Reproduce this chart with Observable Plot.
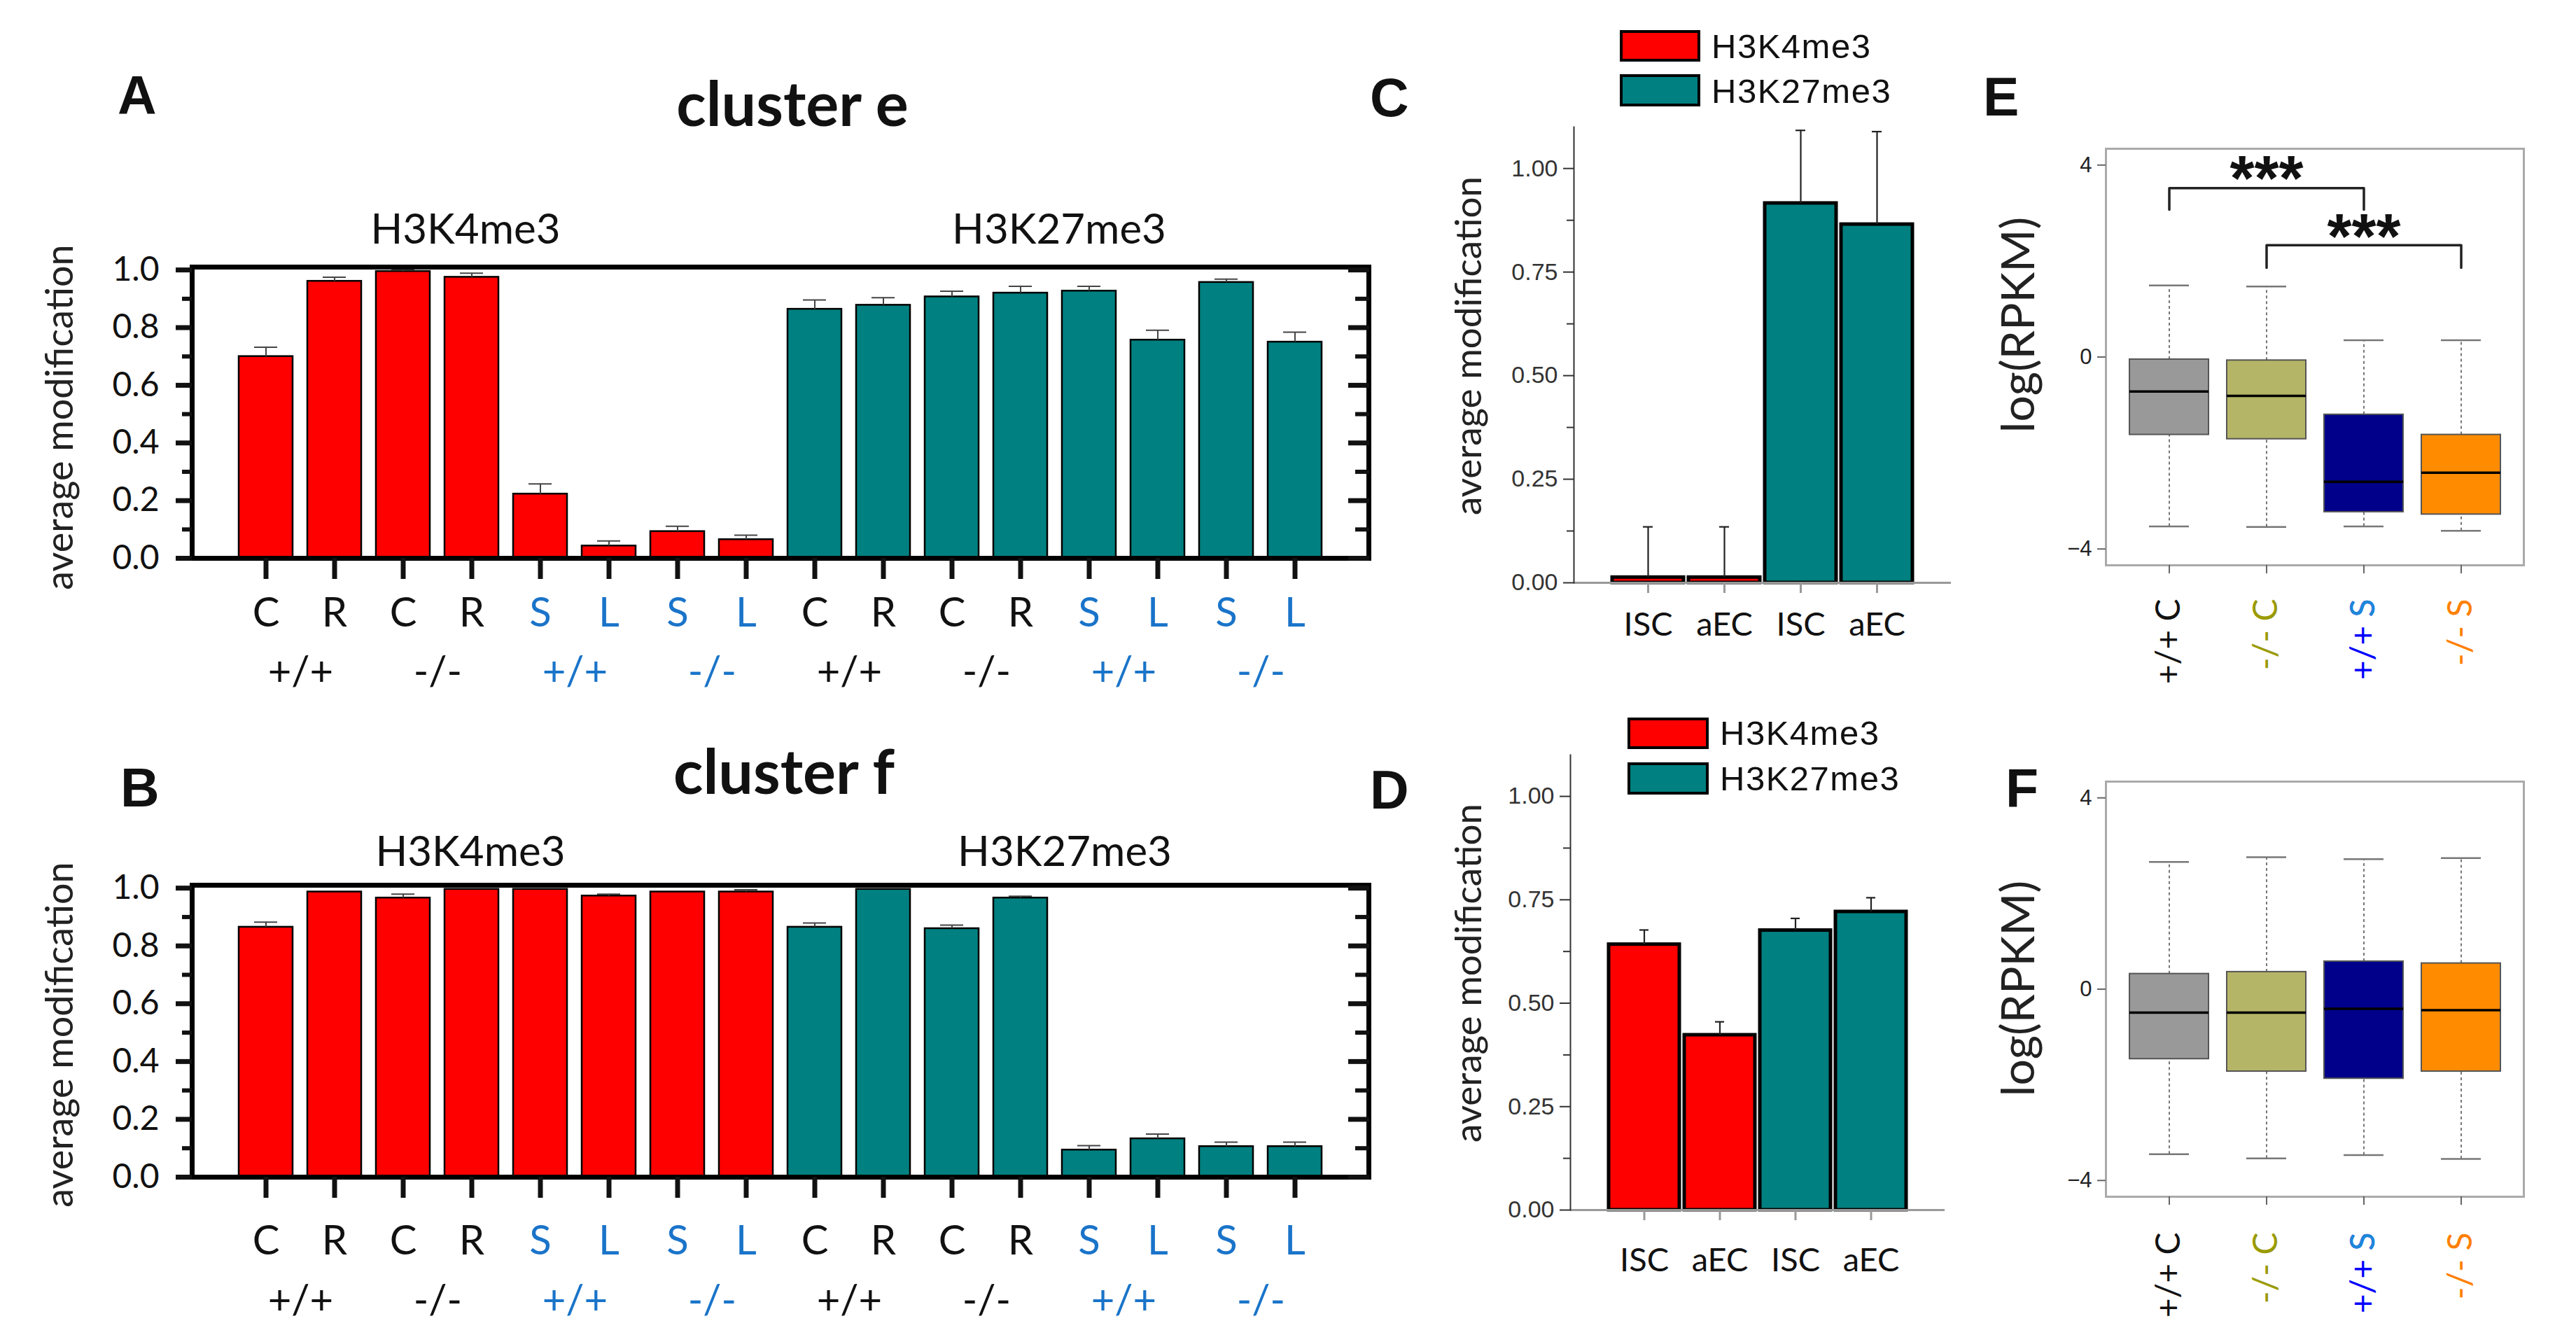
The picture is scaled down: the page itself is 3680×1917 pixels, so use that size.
<!DOCTYPE html>
<html><head><meta charset="utf-8">
<script src="https://cdn.jsdelivr.net/npm/d3@7"></script>
<script src="https://cdn.jsdelivr.net/npm/@observablehq/plot@0.6"></script>
<style>
html,body{margin:0;padding:0;background:#fff;}
#page{position:relative;width:3680px;height:1917px;overflow:hidden;background:#fff;font-family:Lato,sans-serif;color:#111;}
.abs{position:absolute;white-space:nowrap;line-height:1;}
.panel{position:absolute;}
.panel svg{overflow:visible;}
.vlabel{position:absolute;white-space:nowrap;line-height:1;transform:translate(-50%,-50%) rotate(-90deg);}
.sw{position:absolute;box-sizing:border-box;border:4px solid #000;}
</style></head>
<body><div id="page"></div>
<script>
// ---------------- data ----------------
const histoneMarks = ["H3K4me3", "H3K27me3"];
const conditionLetters = ["C", "R", "C", "R", "S", "L", "S", "L"];
const genotypeLabels = ["+/+", "-/-", "+/+", "-/-"];
const clusterE_mean = [0.700, 0.961, 0.995, 0.975, 0.223, 0.043, 0.093, 0.065, 0.864, 0.878, 0.907, 0.920, 0.927, 0.757, 0.957, 0.750];
const clusterE_sem  = [0.032, 0.014, 0.005, 0.014, 0.035, 0.017, 0.018, 0.015, 0.032, 0.026, 0.019, 0.023, 0.016, 0.034, 0.011, 0.034];
const clusterF_mean = [0.865, 0.987, 0.966, 0.996, 0.996, 0.973, 0.987, 0.987, 0.865, 0.996, 0.860, 0.966, 0.094, 0.133, 0.106, 0.106];
const clusterF_sem  = [0.017, 0.000, 0.013, 0.000, 0.000, 0.006, 0.000, 0.007, 0.014, 0.000, 0.012, 0.006, 0.015, 0.016, 0.015, 0.015];
const yTicksAB = [0, 0.2, 0.4, 0.6, 0.8, 1.0];
const yMinorAB = [0.1, 0.3, 0.5, 0.7, 0.9];

const cellTypes = ["ISC", "aEC"];
const bulkE_mean = [0.013, 0.013, 0.916, 0.865];
const bulkE_sem  = [0.122, 0.122, 0.176, 0.224];
const bulkF_mean = [0.642, 0.423, 0.676, 0.721];
const bulkF_sem  = [0.035, 0.032, 0.029, 0.034];
const yTicksCD = [0, 0.25, 0.5, 0.75, 1.0];
const yMinorCD = [0.125, 0.375, 0.625, 0.875];

const boxGroups = ["+/+ C", "-/- C", "+/+ S", "-/- S"];
const boxE_lo  = [-3.53, -3.54, -3.53, -3.62];
const boxE_q1  = [-1.62, -1.71, -3.23, -3.28];
const boxE_med = [-0.72, -0.81, -2.60, -2.41];
const boxE_q3  = [-0.05, -0.07, -1.20, -1.62];
const boxE_hi  = [1.49, 1.47, 0.35, 0.35];
const boxF_lo  = [-3.45, -3.54, -3.47, -3.55];
const boxF_q1  = [-1.46, -1.72, -1.87, -1.72];
const boxF_med = [-0.49, -0.49, -0.41, -0.44];
const boxF_q3  = [0.32, 0.36, 0.58, 0.54];
const boxF_hi  = [2.66, 2.76, 2.72, 2.74];
const yTicksEF = [-4, 0, 4];
const sigFrom  = ["+/+ C", "-/- C"];
const sigTo    = ["+/+ S", "-/- S"];
const sigMid   = ["-/- C", "+/+ S"];
const sigLevel = [3.52, 2.33];
const sigLeg   = [3.07, 1.86];
const sigStar  = [3.84, 2.63];
const sigText  = ["***", "***"];

// ---------------- styles ----------------
const markColor = {H3K4me3: "#ff0000", H3K27me3: "#008080"};
const labelBlack = "#111111", labelBlue = "#1a74c9";
const boxFill = ["#999999", "#b5b567", "#00008b", "#ff8c00"];
const boxLabelColor = ["#111111", "#9a9a00", "#0000ff", "#ff8000"];
const boxLabelAccent = [null, null, "#1e88d8", null];
const SANS = "Liberation Sans, Arial, sans-serif";
const HUM = "Lato, sans-serif";

const page = document.getElementById("page");
function place(node, left, top, width) {
  const d = document.createElement("div");
  d.className = "panel";
  d.style.left = left + "px"; d.style.top = top + "px"; d.style.width = width + "px";
  d.appendChild(node);
  page.appendChild(d);
}
function text(str, {left, top, size, family = HUM, weight = 400, center = false, color = "#111", spacing = 0}) {
  const d = document.createElement("div");
  d.className = "abs";
  d.textContent = str;
  Object.assign(d.style, {left: left + "px", top: top + "px", fontSize: size + "px", fontFamily: family, fontWeight: weight, color, letterSpacing: spacing + "px"});
  if (center) d.style.transform = "translateX(-50%)";
  page.appendChild(d);
}
function vtext(str, cx, cy, size) {
  const d = document.createElement("div");
  d.className = "vlabel";
  d.textContent = str;
  Object.assign(d.style, {left: cx + "px", top: cy + "px", fontSize: size + "px", fontFamily: HUM, color: "#222"});
  page.appendChild(d);
}
function swatch(left, top, w, h, color) {
  const d = document.createElement("div");
  d.className = "sw";
  Object.assign(d.style, {left: left + "px", top: top + "px", width: w + "px", height: h + "px", background: color});
  page.appendChild(d);
}

// ---------------- panels A / B ----------------
function clusterRows(mean, sem) {
  return mean.map((m, i) => {
    const mk = histoneMarks[Math.floor(i / 8)];
    const j = i % 8;
    return {
      id: mk + "|" + j, letter: conditionLetters[j], geno: genotypeLabels[Math.floor(j / 2)],
      mean: m, top: m + sem[i], hasErr: sem[i] > 0, fill: markColor[mk],
      labelFill: j < 4 ? labelBlack : labelBlue, first: j % 2 === 0
    };
  });
}
function clusterPlot(rows, o) {
  const pI = 0.21, pO = 0.6;
  const step = (o.width - o.ml - o.mr) / (rows.length - pI + 2 * pO);
  const err = rows.filter(d => d.hasErr);
  return Plot.plot({
    width: o.width, height: o.height,
    marginTop: o.mt, marginRight: o.mr, marginBottom: o.mb, marginLeft: o.ml,
    style: {fontFamily: HUM, background: "transparent", overflow: "visible"},
    x: {type: "band", domain: rows.map(d => d.id), paddingInner: pI, paddingOuter: pO},
    y: {domain: [0, 1.01]},
    color: {type: "identity"},
    marks: [
      Plot.barY(rows, {x: "id", y: "mean", fill: "fill", stroke: "#000", strokeWidth: 2.5}),
      Plot.ruleX(err, {x: "id", y1: "mean", y2: "top", stroke: "#444", strokeWidth: 2}),
      Plot.tickY(err, {x: "id", y: "top", stroke: "#444", strokeWidth: 2, insetLeft: 22, insetRight: 22}),
      Plot.frame({stroke: "#000", strokeWidth: 7}),
      Plot.axisY({ticks: yTicksAB, tickSize: 23, strokeWidth: 7, tickPadding: 24, tickFormat: d3.format(".1f"), fontSize: 48, fontFamily: HUM, fill: "#111", label: null}),
      Plot.axisY({ticks: yMinorAB, tickSize: 14, strokeWidth: 6, tickFormat: () => "", label: null}),
      Plot.axisY({anchor: "right", ticks: yTicksAB, tickSize: -30, strokeWidth: 7, tickFormat: () => "", label: null}),
      Plot.axisY({anchor: "right", ticks: yMinorAB, tickSize: -20, strokeWidth: 6, tickFormat: () => "", label: null}),
      Plot.axisX({tickSize: 30, strokeWidth: 7, tickFormat: () => "", label: null}),
      Plot.text(rows, {x: "id", text: "letter", fill: "labelFill", frameAnchor: "bottom", dy: o.letterDy, lineAnchor: "middle", fontSize: 58, fontFamily: HUM}),
      Plot.text(rows.filter(d => d.first), {x: "id", text: "geno", fill: "labelFill", frameAnchor: "bottom", dx: step / 2, dy: o.genoDy, lineAnchor: "middle", fontSize: 58, fontFamily: HUM})
    ]
  });
}
place(clusterPlot(clusterRows(clusterE_mean, clusterE_sem), {width: 1990, height: 730, mt: 101, mr: 35, mb: 213, ml: 274, letterDy: 79, genoDy: 163}), 0, 280, 1990);
place(clusterPlot(clusterRows(clusterF_mean, clusterF_sem), {width: 1990, height: 767, mt: 114, mr: 35, mb: 236, ml: 274, letterDy: 92, genoDy: 177}), 0, 1150, 1990);

// ---------------- panels C / D ----------------
function bulkRows(mean, sem) {
  return mean.map((m, i) => {
    const mk = histoneMarks[Math.floor(i / 2)];
    return {id: mk + "|" + cellTypes[i % 2], cell: cellTypes[i % 2], mean: m, top: m + sem[i], fill: markColor[mk]};
  });
}
function bulkPlot(rows, o) {
  return Plot.plot({
    width: o.width, height: o.height,
    marginTop: o.mt, marginRight: o.mr, marginBottom: o.mb, marginLeft: o.ml,
    style: {fontFamily: SANS, background: "transparent", overflow: "visible"},
    x: {type: "band", domain: rows.map(d => d.id), paddingInner: 0.065, paddingOuter: 0.5},
    y: {domain: [0, 1.1]},
    color: {type: "identity"},
    marks: [
      Plot.barY(rows, {x: "id", y: "mean", fill: "fill", stroke: "#000", strokeWidth: 5}),
      Plot.ruleX(rows, {x: "id", y1: "mean", y2: "top", stroke: "#222", strokeWidth: 2.2}),
      Plot.tickY(rows, {x: "id", y: "top", stroke: "#222", strokeWidth: 2.2, insetLeft: 44, insetRight: 44}),
      Plot.ruleY([0], {stroke: "#999", strokeWidth: 3}),
      Plot.frame({anchor: "left", stroke: "#333", strokeWidth: 2}),
      Plot.axisY({ticks: yTicksCD, tickSize: 15, tickPadding: 8, tickFormat: d3.format(".2f"), fontSize: 34, fontFamily: SANS, fill: "#333", stroke: "#333", strokeWidth: 2, label: null}),
      Plot.axisY({ticks: yMinorCD, tickSize: 10, stroke: "#333", strokeWidth: 2, tickFormat: () => "", label: null}),
      Plot.axisX({tickSize: 15, stroke: "#999", strokeWidth: 3, tickFormat: () => "", label: null}),
      Plot.text(rows, {x: "id", text: "cell", frameAnchor: "bottom", dy: o.labelDy, lineAnchor: "middle", fontSize: 47, fontFamily: HUM, fill: "#111"})
    ]
  });
}
place(bulkPlot(bulkRows(bulkE_mean, bulkE_sem), {width: 700, height: 760, mt: 11, mr: 33, mb: 98, ml: 128, labelDy: 60}), 2120, 170, 700);
place(bulkPlot(bulkRows(bulkF_mean, bulkF_sem), {width: 700, height: 857, mt: 18, mr: 42, mb: 189, ml: 123, labelDy: 72}), 2120, 1060, 700);

// ---------------- panels E / F ----------------
function boxPlot(lo, q1, med, q3, hi, o) {
  const rows = boxGroups.map((g, i) => ({g, lo: lo[i], q1: q1[i], med: med[i], q3: q3[i], hi: hi[i], fill: boxFill[i], labelFill: boxLabelColor[i], accent: boxLabelAccent[i]}));
  const labelOpts = {x: "g", rotate: -90, textAnchor: "end", lineAnchor: "middle", frameAnchor: "bottom", dy: o.labelDy, fontSize: 48, fontFamily: HUM};
  const marks = [
    Plot.ruleX(rows, {x: "g", y1: "q3", y2: "hi", stroke: "#555", strokeWidth: 1.6, strokeDasharray: "4,4"}),
    Plot.ruleX(rows, {x: "g", y1: "lo", y2: "q1", stroke: "#555", strokeWidth: 1.6, strokeDasharray: "4,4"}),
    Plot.tickY(rows, {x: "g", y: "hi", stroke: "#777", strokeWidth: 2.5, insetLeft: 28, insetRight: 28}),
    Plot.tickY(rows, {x: "g", y: "lo", stroke: "#777", strokeWidth: 2.5, insetLeft: 28, insetRight: 28}),
    Plot.barY(rows, {x: "g", y1: "q1", y2: "q3", fill: "fill", stroke: "#555", strokeWidth: 2}),
    Plot.tickY(rows, {x: "g", y: "med", stroke: "#000", strokeWidth: 3.5}),
    Plot.frame({stroke: "#aaa", strokeWidth: 3}),
    Plot.axisY({ticks: yTicksEF, tickSize: 12, tickPadding: 8, fontSize: 31, fontFamily: SANS, fill: "#222", stroke: "#666", strokeWidth: 2, label: null}),
    Plot.axisX({tickSize: 12, stroke: "#666", strokeWidth: 2, tickFormat: () => "", label: null}),
    Plot.text(rows, {...labelOpts, text: "g", fill: "labelFill"}),
    Plot.text(rows.filter(d => d.accent), {...labelOpts, text: d => d.g.slice(-1), fill: "accent"})
  ];
  if (o.sig) {
    const pts = [];
    sigFrom.forEach((f, k) => {
      pts.push({k, x: f, y: sigLeg[k]}, {k, x: f, y: sigLevel[k]}, {k, x: sigTo[k], y: sigLevel[k]}, {k, x: sigTo[k], y: sigLeg[k]});
    });
    const stars = sigMid.map((m, k) => ({x: m, y: sigStar[k], t: sigText[k]}));
    marks.push(
      Plot.line(pts, {x: "x", y: "y", z: "k", stroke: "#222", strokeWidth: 3.5, curve: "linear"}),
      Plot.text(stars, {x: "x", y: "y", text: "t", fontSize: 90, fontWeight: "bold", fontFamily: SANS, fill: "#111", dy: 10, lineAnchor: "middle"})
    );
  }
  return Plot.plot({
    width: o.width, height: o.height,
    marginTop: o.mt, marginRight: o.mr, marginBottom: o.mb, marginLeft: o.ml,
    style: {fontFamily: SANS, background: "transparent", overflow: "visible"},
    x: {type: "band", domain: boxGroups, paddingInner: 0.19, paddingOuter: 0.24},
    y: {domain: [-4.34, 4.34]},
    color: {type: "identity"},
    marks
  });
}
place(boxPlot(boxE_lo, boxE_q1, boxE_med, boxE_q3, boxE_hi, {width: 740, height: 800, mt: 12, mr: 35, mb: 193, ml: 108, labelDy: 48, sig: true}), 2900, 200, 740);
place(boxPlot(boxF_lo, boxF_q1, boxF_med, boxF_q3, boxF_hi, {width: 740, height: 817, mt: 16, mr: 35, mb: 208, ml: 108, labelDy: 51, sig: false}), 2900, 1100, 740);

// ---------------- titles, labels, legends ----------------
const LB = 0.8465, LL = 0.887; // baseline offsets for line-height 1 (Liberation / Lato)
[["A", 168, 163], ["B", 172, 1152], ["C", 1957, 166], ["D", 1957, 1155], ["E", 2833, 165], ["F", 2865, 1153]]
  .forEach(([s, x, b]) => text(s, {left: x, top: b - LB * 77, size: 77, family: SANS, weight: 700}));
text("cluster e", {left: 1132, top: 180 - LL * 88, size: 88, weight: 700, center: true});
text("cluster f", {left: 1120, top: 1134 - LL * 88, size: 88, weight: 700, center: true});
text(histoneMarks[0], {left: 665, top: 348 - LL * 60, size: 60, center: true});
text(histoneMarks[1], {left: 1513, top: 348 - LL * 60, size: 60, center: true});
text(histoneMarks[0], {left: 672, top: 1237 - LL * 60, size: 60, center: true});
text(histoneMarks[1], {left: 1521, top: 1237 - LL * 60, size: 60, center: true});
vtext("average modification", 84, 596, 54);
vtext("average modification", 84, 1478, 54);
vtext("average modification", 2095, 494, 53);
vtext("average modification", 2095, 1390, 53);
vtext("log(RPKM)", 2881, 464, 66);
vtext("log(RPKM)", 2881, 1412, 66);
// legends
swatch(2314, 43, 115, 45, markColor.H3K4me3);
swatch(2314, 106, 115, 46, markColor.H3K27me3);
text(histoneMarks[0], {left: 2445, top: 83 - LB * 49, size: 49, family: SANS, spacing: 1.5});
text(histoneMarks[1], {left: 2445, top: 147 - LB * 49, size: 49, family: SANS, spacing: 1.5});
swatch(2325, 1025, 116, 45, markColor.H3K4me3);
swatch(2325, 1089, 116, 46, markColor.H3K27me3);
text(histoneMarks[0], {left: 2457, top: 1064 - LB * 49, size: 49, family: SANS, spacing: 1.5});
text(histoneMarks[1], {left: 2457, top: 1129 - LB * 49, size: 49, family: SANS, spacing: 1.5});
</script></body></html>
